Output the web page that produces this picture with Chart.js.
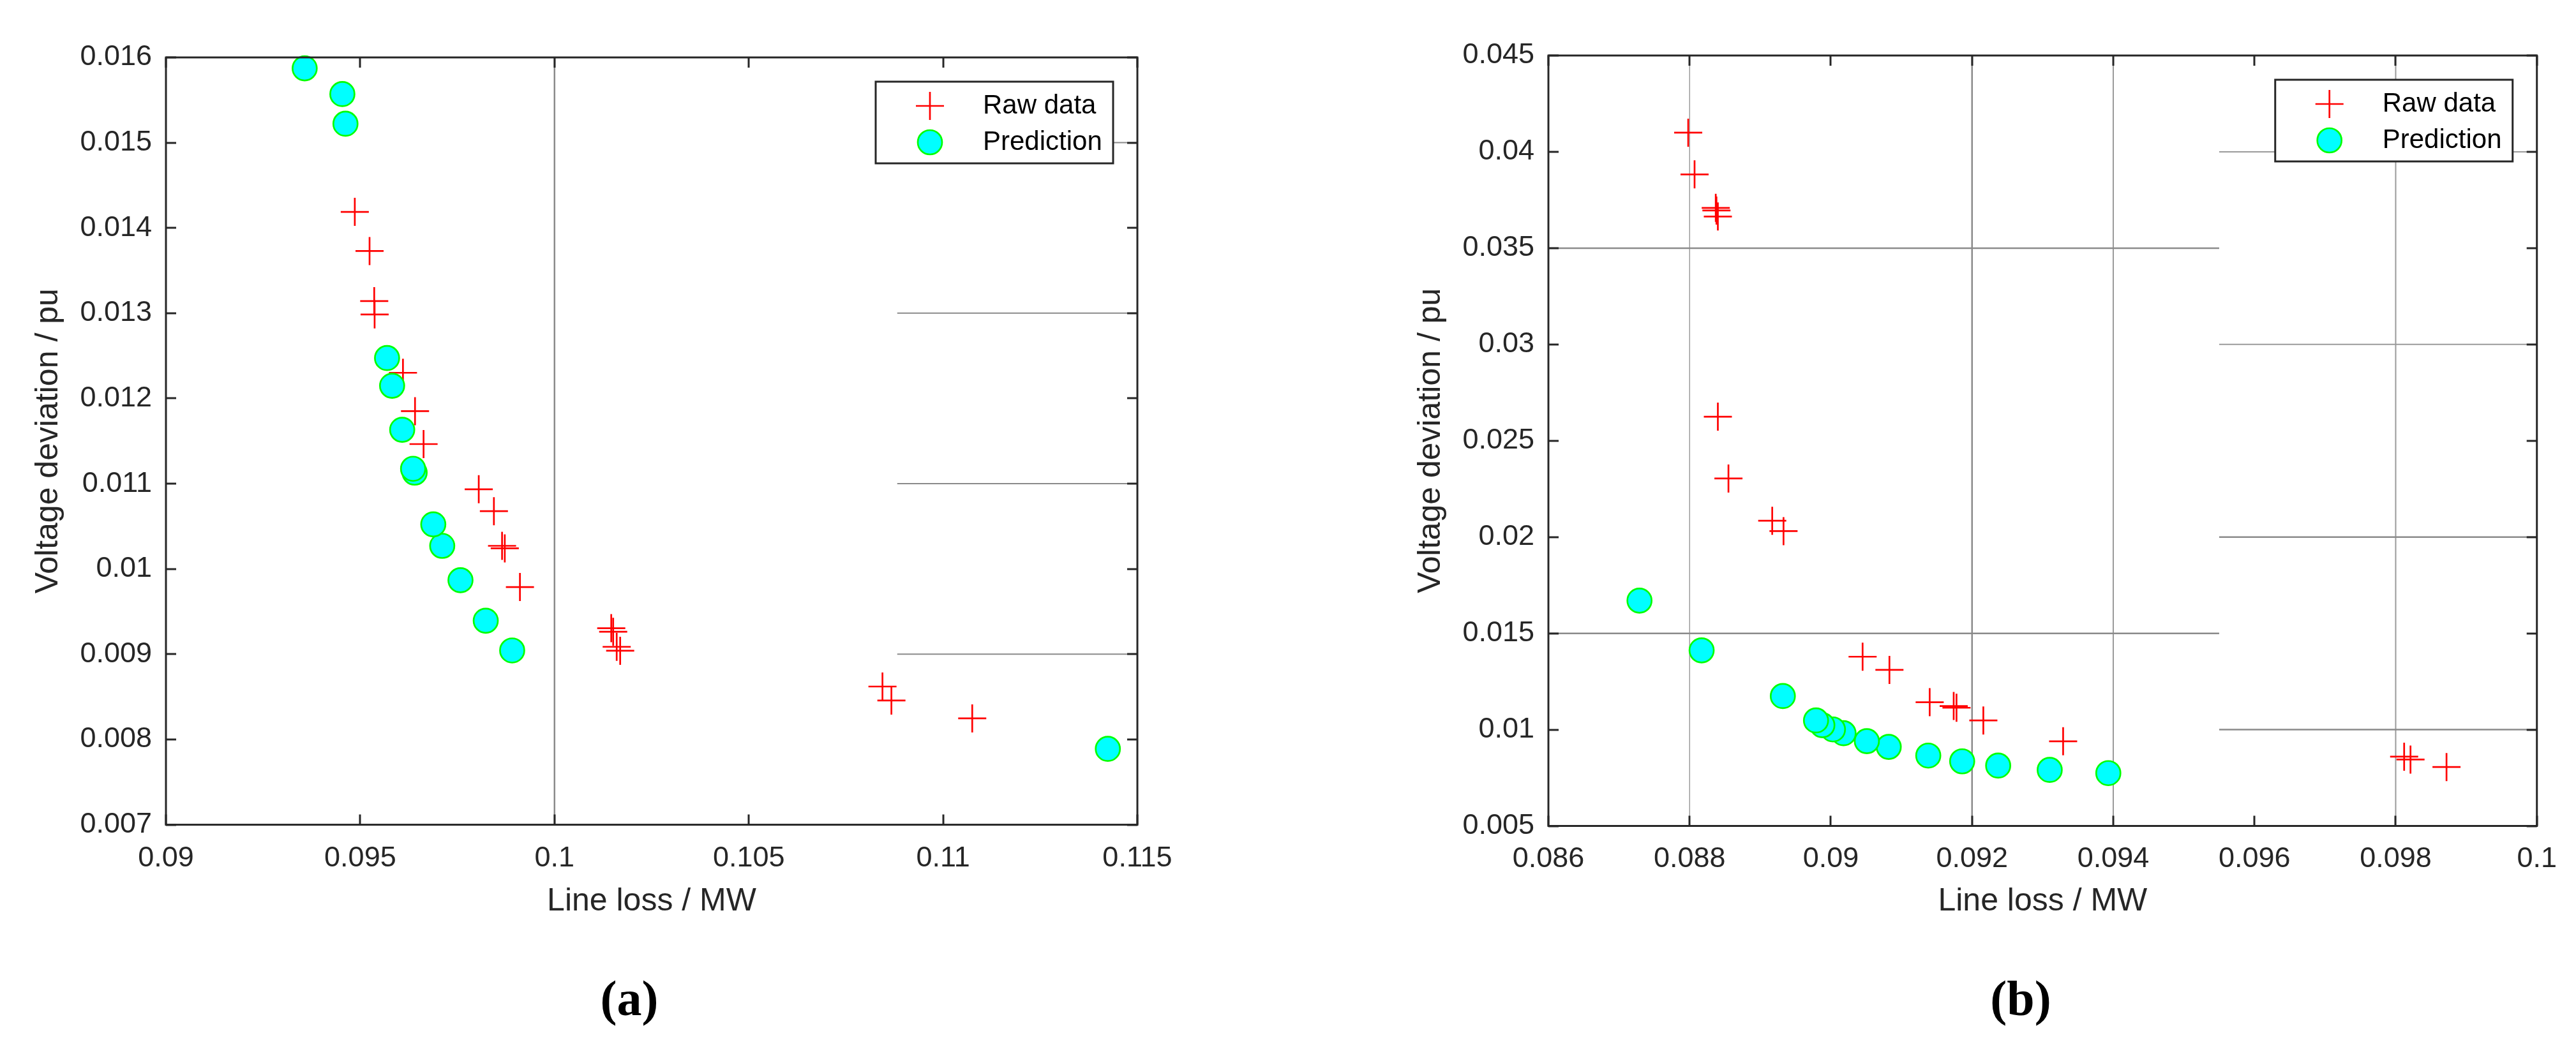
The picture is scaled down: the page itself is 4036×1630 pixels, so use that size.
<!DOCTYPE html>
<html>
<head>
<meta charset="utf-8">
<script src="https://cdn.jsdelivr.net/npm/chart.js@4.4.1/dist/chart.umd.min.js"></script>
<style>
html,body{margin:0;padding:0;background:#fff;width:4036px;height:1630px;overflow:hidden;position:relative}
canvas{position:absolute;top:0}
#ca{left:0}
#cb{left:2166px}
.lab{position:absolute;font-family:"Liberation Serif","Times New Roman",serif;font-weight:bold;font-size:78px;line-height:78px;color:#000;top:1526px;transform:translateX(-50%);white-space:nowrap}
</style>
</head>
<body>
<canvas id="ca" width="2000" height="1500"></canvas>
<canvas id="cb" width="1870" height="1500"></canvas>
<div class="lab" style="left:986px">(a)</div>
<div class="lab" style="left:3166px">(b)</div>
<script>
// ---------- data: chart (a) ----------
const rawA_x = [0.09486, 0.09524, 0.09536, 0.09537, 0.09610, 0.09641, 0.09663, 0.09805, 0.09844, 0.09865, 0.09872, 0.09911, 0.10146, 0.10151, 0.10160, 0.10169, 0.10844, 0.10867, 0.11075];
const rawA_y = [0.014188, 0.013729, 0.013142, 0.012985, 0.012301, 0.011851, 0.011465, 0.010935, 0.010678, 0.010271, 0.010242, 0.009788, 0.009305, 0.009263, 0.009087, 0.009041, 0.008621, 0.008457, 0.008247];
const predA_x = [0.11424, 0.09891, 0.09823, 0.09758, 0.09711, 0.09688, 0.09640, 0.09636, 0.09608, 0.09582, 0.09569, 0.09462, 0.09454, 0.09357];
const predA_y = [0.00789, 0.009044, 0.009393, 0.009868, 0.010271, 0.010523, 0.01113, 0.011175, 0.011633, 0.012149, 0.012474, 0.015222, 0.01557, 0.015872];
const xTicksA = ['0.09', '0.095', '0.1', '0.105', '0.11', '0.115'];
const yTicksA = ['0.007', '0.008', '0.009', '0.01', '0.011', '0.012', '0.013', '0.014', '0.015', '0.016'];

// ---------- data: chart (b) ----------
const rawB_x = [0.08798, 0.08807, 0.08837, 0.08838, 0.08840, 0.08840, 0.08855, 0.08917, 0.08933, 0.09045, 0.09083, 0.09140, 0.09174, 0.09178, 0.09216, 0.09329, 0.09812, 0.09821, 0.09872];
const rawB_y = [0.040995, 0.038829, 0.037087, 0.036954, 0.036643, 0.026249, 0.023039, 0.020846, 0.020306, 0.013787, 0.013102, 0.011423, 0.011225, 0.011137, 0.010475, 0.009395, 0.008598, 0.008447, 0.008057];
const predB_x = [0.09393, 0.09310, 0.09237, 0.09186, 0.09138, 0.09082, 0.09051, 0.09018, 0.09003, 0.08988, 0.08979, 0.08932, 0.08817, 0.08729];
const predB_y = [0.007742, 0.007908, 0.008133, 0.008354, 0.008653, 0.009104, 0.009402, 0.009813, 0.010011, 0.01023, 0.010475, 0.011744, 0.014116, 0.016699];
const xTicksB = ['0.086', '0.088', '0.09', '0.092', '0.094', '0.096', '0.098', '0.1'];
const yTicksB = ['0.005', '0.01', '0.015', '0.02', '0.025', '0.03', '0.035', '0.04', '0.045'];

const seriesNames = ['Raw data', 'Prediction'];
const xTitle = 'Line loss / MW';
const yTitle = 'Voltage deviation / pu';

// ---------- styling ----------
const FONT = '"Liberation Sans", Arial, Helvetica, sans-serif';
const INK = '#262626';

const pts = (xs, ys) => xs.map((x, i) => ({x: x, y: ys[i]}));

const framePlugin = {
  id: 'frame',
  beforeDatasetsDraw(chart, args, o) {
    const {ctx, scales: {x, y}} = chart;
    ctx.save();
    (o.grids || []).forEach(g => {
      ctx.strokeStyle = g.color;
      ctx.lineWidth = g.width;
      ctx.beginPath();
      if (g.x !== undefined) {
        const px = x.getPixelForValue(g.x);
        ctx.moveTo(px, y.getPixelForValue(g.from));
        ctx.lineTo(px, y.getPixelForValue(g.to));
      } else {
        const py = y.getPixelForValue(g.y);
        ctx.moveTo(x.getPixelForValue(g.from), py);
        ctx.lineTo(x.getPixelForValue(g.to), py);
      }
      ctx.stroke();
    });
    ctx.restore();
  },
  afterDatasetsDraw(chart, args, o) {
    const {ctx, chartArea: a, scales: {x, y}} = chart;
    ctx.save();
    ctx.strokeStyle = INK;
    ctx.lineWidth = 3;
    const tl = 16;
    ctx.beginPath();
    x.ticks.forEach(t => {
      const px = Math.round(x.getPixelForValue(t.value));
      ctx.moveTo(px, a.bottom); ctx.lineTo(px, a.bottom - tl);
      ctx.moveTo(px, a.top); ctx.lineTo(px, a.top + tl);
    });
    y.ticks.forEach(t => {
      const py = Math.round(y.getPixelForValue(t.value));
      ctx.moveTo(a.left, py); ctx.lineTo(a.left + tl, py);
      ctx.moveTo(a.right, py); ctx.lineTo(a.right - tl, py);
    });
    ctx.stroke();
    ctx.strokeRect(a.left, a.top, a.right - a.left, a.bottom - a.top);

    // legend box
    const L = o.legend;
    const lx = a.right - L.gap - L.w, ly = a.top + L.gap;
    ctx.fillStyle = '#fff';
    ctx.fillRect(lx, ly, L.w, L.h);
    ctx.lineWidth = 3;
    ctx.strokeStyle = INK;
    ctx.strokeRect(lx, ly, L.w, L.h);
    const rows = [L.row1, L.row2];
    chart.data.datasets.forEach((ds, i) => {
      const cy = ly + rows[i];
      ctx.save();
      ctx.strokeStyle = ds.borderColor;
      ctx.fillStyle = ds.backgroundColor || 'rgba(0,0,0,0)';
      ctx.lineWidth = ds.borderWidth;
      Chart.helpers.drawPoint(ctx, {pointStyle: ds.pointStyle, rotation: 0, radius: ds.pointRadius, borderWidth: ds.borderWidth}, lx + L.markX, cy);
      ctx.restore();
      ctx.fillStyle = '#000';
      ctx.font = '42px ' + FONT;
      ctx.textBaseline = 'middle';
      ctx.textAlign = 'left';
      ctx.fillText(ds.label, lx + L.textX, cy);
    });
    ctx.restore();
  }
};

function makeChart(id, cfg) {
  const canvas = document.getElementById(id);
  const xVals = cfg.xTicks.map(Number);
  const yVals = cfg.yTicks.map(Number);
  return new Chart(canvas, {
    type: 'scatter',
    data: {
      datasets: [
        {
          label: seriesNames[0],
          data: pts(cfg.rawX, cfg.rawY),
          pointStyle: 'cross',
          pointRadius: 22,
          pointHoverRadius: 22,
          borderColor: '#ff0000',
          backgroundColor: 'rgba(0,0,0,0)',
          borderWidth: 2.7,
          showLine: false,
          clip: false,
          order: 1
        },
        {
          label: seriesNames[1],
          data: pts(cfg.predX, cfg.predY),
          pointStyle: 'circle',
          pointRadius: 19,
          pointHoverRadius: 19,
          borderColor: '#00ff00',
          backgroundColor: '#00ffff',
          borderWidth: 2.7,
          showLine: false,
          clip: false,
          order: 0
        }
      ]
    },
    options: {
      responsive: false,
      animation: false,
      devicePixelRatio: 1,
      events: [],
      layout: {padding: {left: 0, top: cfg.top, right: canvas.width - cfg.right, bottom: 0}},
      plugins: {
        legend: {display: false},
        tooltip: {enabled: false},
        frame: {grids: cfg.grids, legend: {gap: 38, w: 372, h: 128, markX: 85, textX: 168, row1: 38, row2: 95}}
      },
      scales: {
        x: {
          type: 'linear',
          min: xVals[0],
          max: xVals[xVals.length - 1],
          afterBuildTicks: s => { s.ticks = xVals.map(v => ({value: v})); },
          afterFit: s => { s.height = canvas.height - cfg.bottom; },
          grid: {display: false, drawTicks: false},
          border: {display: false},
          ticks: {
            autoSkip: false, maxRotation: 0, padding: 30, color: INK,
            font: {family: FONT, size: 45, lineHeight: 1},
            callback: (v, i) => cfg.xTicks[i]
          },
          title: {display: true, text: xTitle, color: INK, font: {family: FONT, size: 50, lineHeight: 1}, padding: {top: 0, bottom: 62}}
        },
        y: {
          type: 'linear',
          min: yVals[0],
          max: yVals[yVals.length - 1],
          afterBuildTicks: s => { s.ticks = yVals.map(v => ({value: v})); },
          afterFit: s => { s.width = cfg.left; },
          grid: {display: false, drawTicks: false},
          border: {display: false},
          ticks: {
            autoSkip: false, padding: 22, color: INK,
            font: {family: FONT, size: 45, lineHeight: 1},
            callback: (v, i) => cfg.yTicks[i]
          },
          title: {display: true, text: yTitle, color: INK, font: {family: FONT, size: 50, lineHeight: 1}, padding: {top: 51, bottom: 0}}
        }
      }
    },
    plugins: [framePlugin]
  });
}

const gDark = '#8a8a8a';
makeChart('ca', {
  rawX: rawA_x, rawY: rawA_y, predX: predA_x, predY: predA_y,
  xTicks: xTicksA, yTicks: yTicksA,
  left: 260, right: 1782, top: 90, bottom: 1292.6,
  grids: [
    {x: 0.1, from: 0.007, to: 0.016, color: gDark, width: 2.5},
    {y: 0.015, from: 0.10882, to: 0.115, color: gDark, width: 2},
    {y: 0.013, from: 0.10882, to: 0.115, color: gDark, width: 2},
    {y: 0.011, from: 0.10882, to: 0.115, color: gDark, width: 2},
    {y: 0.009, from: 0.10882, to: 0.115, color: gDark, width: 2}
  ]
});

makeChart('cb', {
  rawX: rawB_x, rawY: rawB_y, predX: predB_x, predY: predB_y,
  xTicks: xTicksB, yTicks: yTicksB,
  left: 260, right: 1814, top: 87, bottom: 1294.5,
  grids: [
    {x: 0.088, from: 0.005, to: 0.045, color: '#8f8f8f', width: 1.3},
    {x: 0.092, from: 0.005, to: 0.045, color: gDark, width: 2.5},
    {x: 0.094, from: 0.005, to: 0.045, color: '#9a9a9a', width: 2},
    {x: 0.098, from: 0.005, to: 0.045, color: '#9a9a9a', width: 2},
    {y: 0.035, from: 0.086, to: 0.0955, color: gDark, width: 2.5},
    {y: 0.015, from: 0.086, to: 0.0955, color: gDark, width: 2.5},
    {y: 0.04, from: 0.0955, to: 0.1, color: '#9a9a9a', width: 2},
    {y: 0.03, from: 0.0955, to: 0.1, color: '#9a9a9a', width: 2},
    {y: 0.02, from: 0.0955, to: 0.1, color: gDark, width: 2.5},
    {y: 0.01, from: 0.0955, to: 0.1, color: gDark, width: 2.5}
  ]
});
</script>
</body>
</html>
